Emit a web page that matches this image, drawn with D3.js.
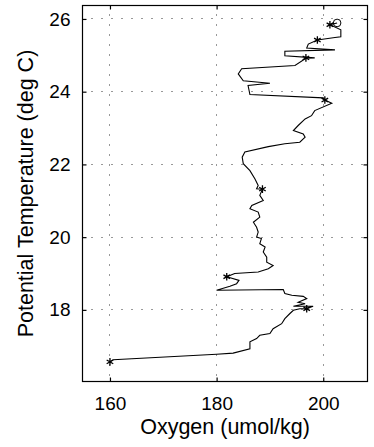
<!DOCTYPE html>
<meta charset="utf-8">
<style>
    body { margin: 0; background: #fff; }
    text { font-family: "Liberation Sans", Arial, sans-serif; fill: #000; }
    .grid line { stroke: #333; stroke-width: 1; stroke-dasharray: 1,9; }
</style>
<svg width="374" height="447"></svg>
<script src="https://d3js.org/d3.v7.min.js"></script>
<script>
    // profile, from the surface (circle) down
    var oxygen = [202.6, 201.25, 203.3, 203.3, 202.2, 198.9, 197.2, 196.9, 202.2, 192.8,
        192.8, 198.4, 196.75, 194.7, 184.7, 184.06, 185.0, 190.0, 185.9, 186.25,
        200.0, 200.3, 201.6, 198.4, 197.8, 196.6, 195.3, 194.4, 196.25, 196.6,
        195.6, 192.8, 189.7, 185.3, 184.8, 185.0, 186.25, 187.2, 187.8, 187.5,
        188.6, 188.1, 188.75, 186.6, 186.25, 187.8, 188.1, 186.9, 187.5, 187.8,
        187.5, 188.4, 188.1, 189.1, 188.75, 189.4, 189.4, 190.6, 189.7, 187.8,
        183.4, 181.9, 184.2, 183.75, 182.5, 180.0, 192.5, 192.8, 194.1, 196.25,
        196.9, 195.3, 196.6, 194.4, 198.1, 196.9, 195.6, 194.4, 193.75, 192.8,
        192.2, 190.6, 190.0, 188.1, 187.5, 186.25, 186.25, 183.1, 180.0, 160.6, 160.0];
    var temperature = [25.89, 25.84, 25.70, 25.51, 25.49, 25.42, 25.31, 25.20, 25.15, 25.11,
        24.99, 24.93, 24.92, 24.72, 24.63, 24.49, 24.30, 24.23, 24.17, 23.92,
        23.83, 23.77, 23.68, 23.48, 23.34, 23.25, 23.07, 22.93, 22.84, 22.75,
        22.61, 22.57, 22.49, 22.34, 22.20, 22.02, 21.83, 21.60, 21.42, 21.33,
        21.32, 21.15, 21.01, 20.87, 20.78, 20.69, 20.55, 20.41, 20.27, 20.14,
        20.00, 19.96, 19.82, 19.73, 19.59, 19.45, 19.31, 19.22, 19.13, 19.04,
        19.00, 18.91, 18.81, 18.72, 18.65, 18.54, 18.56, 18.45, 18.40, 18.37,
        18.31, 18.21, 18.17, 18.10, 18.10, 18.03, 18.03, 17.99, 17.90, 17.76,
        17.62, 17.48, 17.35, 17.30, 17.21, 17.12, 16.93, 16.81, 16.78, 16.63, 16.57];
    var starOxygen = [201.25, 198.9, 196.75, 200.3, 188.6, 181.9, 196.9, 160.0];
    var starTemp = [25.84, 25.42, 24.93, 23.77, 21.32, 18.91, 18.03, 16.57];
    var xTicks = [160, 180, 200];
    var yTicks = [18, 20, 22, 24, 26];

    var svg = d3.select("svg");
    var pLeft = 82.5, pRight = 367.5, pTop = 5.5, pBottom = 381.5;

    var x = d3.scaleLinear().domain([154.85, 208.3]).range([pLeft, pRight]);
    var y = d3.scaleLinear().domain([16.03, 26.37]).range([pBottom, pTop]);
    var snap = function (v) { return Math.round(v - 0.5) + 0.5; };

    // dotted grid
    var grid = svg.append("g").attr("class", "grid");
    grid.selectAll(".gx").data(xTicks).enter().append("line")
        .attr("x1", function (d) { return snap(x(d)); })
        .attr("x2", function (d) { return snap(x(d)); })
        .attr("y1", pBottom).attr("y2", pTop)
        .style("stroke-dashoffset", 4);
    grid.selectAll(".gy").data(yTicks).enter().append("line")
        .attr("y1", function (d) { return snap(y(d)); })
        .attr("y2", function (d) { return snap(y(d)); })
        .attr("x1", pLeft).attr("x2", pRight)
        .style("stroke-dashoffset", -9);

    // the profile
    var pts = oxygen.map(function (o, i) { return [o, temperature[i]]; });
    svg.append("path")
        .datum(pts)
        .attr("fill", "none")
        .attr("stroke", "#000")
        .attr("stroke-width", 1.1)
        .attr("d", d3.line().x(function (d) { return x(d[0]); }).y(function (d) { return y(d[1]); }));

    // asterisk markers
    var star = d3.symbol().type(d3.symbolAsterisk).size(40);
    svg.selectAll(".star").data(starOxygen).enter().append("path")
        .attr("d", star)
        .attr("transform", function (d, i) { return "translate(" + x(d) + "," + y(starTemp[i]) + ")"; })
        .attr("fill", "none").attr("stroke", "#000").attr("stroke-width", 1.3);

    // circle at the start
    svg.append("circle")
        .attr("cx", x(oxygen[0])).attr("cy", y(temperature[0])).attr("r", 3.8)
        .attr("fill", "none").attr("stroke", "#000").attr("stroke-width", 1);

    // box with inward ticks on all sides
    svg.append("rect")
        .attr("x", pLeft).attr("y", pTop)
        .attr("width", pRight - pLeft).attr("height", pBottom - pTop)
        .attr("fill", "none").attr("stroke", "#000").attr("stroke-width", 1.2);

    var tl = 4;
    svg.append("g").attr("transform", "translate(0," + pBottom + ")")
        .call(d3.axisBottom(x).tickValues(xTicks).tickSizeInner(-tl).tickSizeOuter(0).tickPadding(15))
        .call(function (g) { g.select(".domain").remove(); });
    svg.append("g").attr("transform", "translate(0," + pTop + ")")
        .call(d3.axisTop(x).tickValues(xTicks).tickSizeInner(-tl).tickSizeOuter(0).tickFormat(""))
        .call(function (g) { g.select(".domain").remove(); });
    svg.append("g").attr("transform", "translate(" + pLeft + ",0)")
        .call(d3.axisLeft(y).tickValues(yTicks).tickSizeInner(-tl).tickSizeOuter(0).tickPadding(12))
        .call(function (g) { g.select(".domain").remove(); });
    svg.append("g").attr("transform", "translate(" + pRight + ",0)")
        .call(d3.axisRight(y).tickValues(yTicks).tickSizeInner(-tl).tickSizeOuter(0).tickFormat(""))
        .call(function (g) { g.select(".domain").remove(); });

    svg.selectAll(".tick line").attr("stroke", "#000").attr("stroke-width", 1.2);
    svg.selectAll(".tick text")
        .style("font-family", "Liberation Sans, Arial, sans-serif")
        .style("font-size", "19px")
        .attr("fill", "#000");

    svg.append("text")
        .attr("x", (pLeft + pRight) / 2).attr("y", 434)
        .attr("text-anchor", "middle")
        .style("font-size", "21.5px")
        .text("Oxygen (umol/kg)");

    svg.append("text")
        .attr("transform", "translate(33," + (pTop + pBottom) / 2 + ") rotate(-90)")
        .attr("text-anchor", "middle")
        .style("font-size", "21.5px")
        .text("Potential Temperature (deg C)");
</script>
